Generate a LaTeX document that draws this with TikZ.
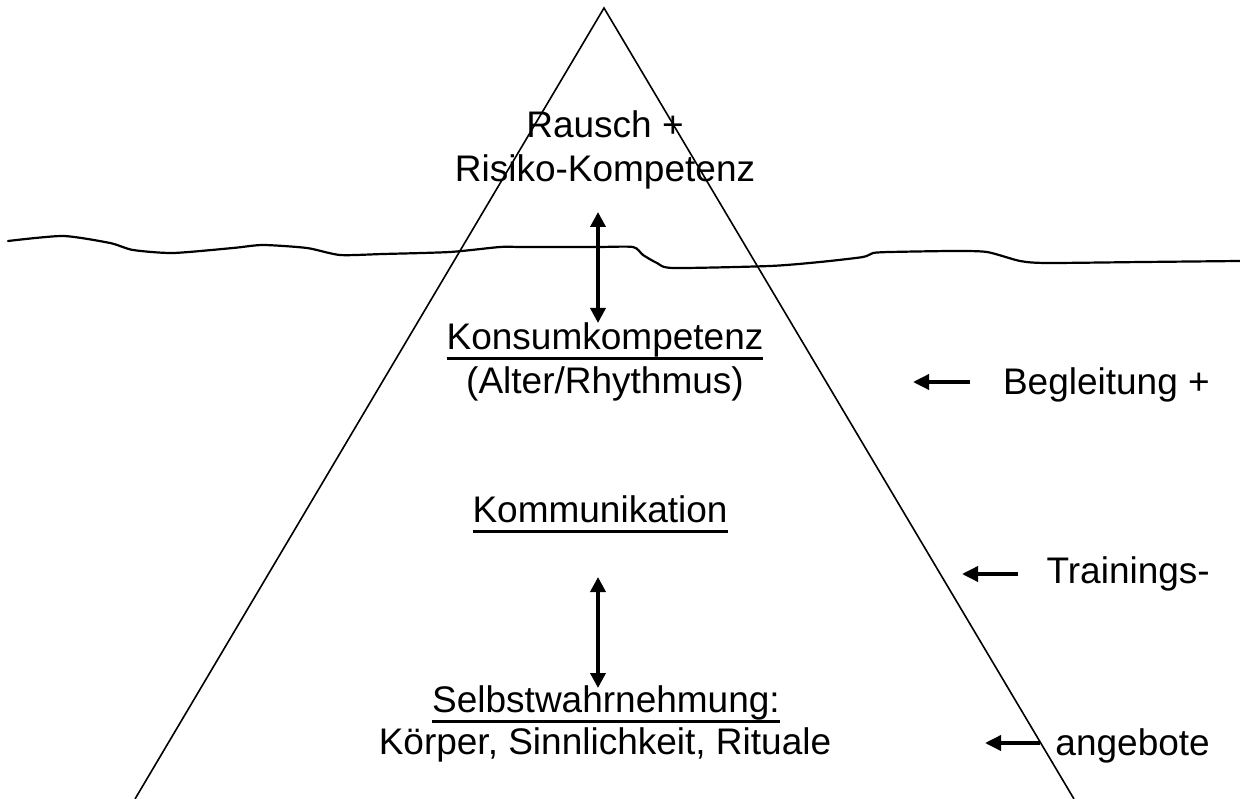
\documentclass[tikz,border=0pt]{standalone}
\usepackage{fontspec}
\setmainfont{Liberation Sans}
\usetikzlibrary{arrows.meta}
\newcommand{\ulx}[1]{\setbox0\hbox{#1}\rlap{\rule[-10.5pt]{\wd0}{3pt}}\box0}
\begin{document}
\begin{tikzpicture}[x=1pt,y=-1pt,
  lbl/.style={inner sep=0pt, anchor=base, font=\fontsize{37}{44}\selectfont},
  rlbl/.style={lbl, anchor=base east},
  dbl/.style={line width=3.5pt, {Triangle[length=15pt,width=15pt]}-{Triangle[length=15pt,width=15pt]}},
  larr/.style={line width=3.5pt, -{Triangle[length=16pt,width=15pt]}},
  edge/.style={line width=1.6pt, line join=miter},
  water/.style={line width=2.2pt, line cap=round}]
\useasboundingbox (0,0) rectangle (1240,799);
% iceberg
\coordinate (apex) at (604,8);
\coordinate (bl) at (135,799);
\coordinate (br) at (1074,799);
\draw[edge] (bl) -- (apex) -- (br);
% water line
\draw[water] plot[smooth, tension=0.4] coordinates {(8,241) (63,236) (110,243) (133,250) (173,253) (233,248) (263,245) (307,248) (340,255) (383,254) (450,252) (500,247) (523,247) (597,247) (633,247) (643,255) (657,263) (673,268) (770,266) (820,262) (863,257) (873,253) (890,252) (953,251) (987,252) (1020,261) (1047,263) (1143,262) (1240,261)};
% texts
\node[lbl] (rausch) at (605,138) {Rausch +};
\node[lbl] (risiko) at (605,182) {Risiko-Kompetenz};
\node[lbl] (konsum) at (605,350) {\ulx{Konsumkompetenz}};
\node[lbl] (alter) at (605,394) {(Alter/Rhythmus)};
\node[lbl] (komm) at (600,522) {\ulx{Kommunikation}};
\node[lbl] (selbst) at (606,712) {\ulx{Selbstwahrnehmung:}};
\node[lbl] (koerper) at (605,754) {Körper, Sinnlichkeit, Rituale};
\node[rlbl] (begl) at (1210,395) {Begleitung +};
\node[rlbl] (train) at (1210,583) {Trainings-};
\node[rlbl] (angeb) at (1210,755) {angebote};
% double arrows
\coordinate (d1t) at (598,212);
\coordinate (d1b) at (598,323);
\coordinate (d2t) at (598,577);
\coordinate (d2b) at (598,688);
\draw[dbl] (d1t) -- (d1b);
\draw[dbl] (d2t) -- (d2b);
% left arrows
\coordinate (a1s) at (970,382);
\coordinate (a1e) at (913,382);
\coordinate (a2s) at (1018,574);
\coordinate (a2e) at (962,574);
\coordinate (a3s) at (1040,743);
\coordinate (a3e) at (985,743);
\draw[larr] (a1s) -- (a1e);
\draw[larr] (a2s) -- (a2e);
\draw[larr] (a3s) -- (a3e);
\end{tikzpicture}
\end{document}
